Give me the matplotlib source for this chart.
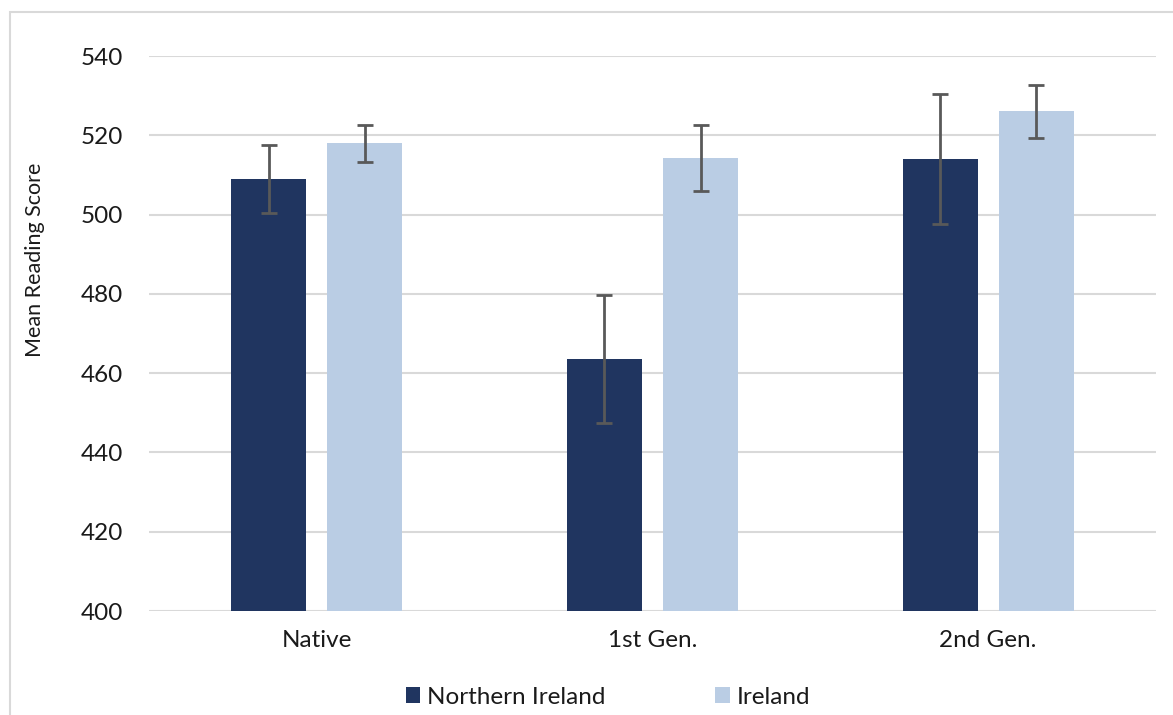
import matplotlib
matplotlib.use("Agg")
import matplotlib.pyplot as plt
import numpy as np
from matplotlib.patches import Rectangle

categories = ["Native", "1st Gen.", "2nd Gen."]
series_names = ["Northern Ireland", "Ireland"]
ni_means = [509.0, 463.6, 514.0]
ni_err = [8.5, 16.2, 16.3]
ie_means = [518.0, 514.2, 526.1]
ie_err = [4.7, 8.3, 6.7]
yticks = [400, 420, 440, 460, 480, 500, 520, 540]

colors = ["#203560", "#BACDE4"]
grid_color = "#D9D9D9"
text_color = "#1a1a1a"
fs = 17.5

plt.rcParams['font.family'] = ['Lato', 'DejaVu Sans']

fig = plt.figure(figsize=(11.73, 7.15), dpi=100)
W, H = 1173, 715
ax = fig.add_axes([149 / W, 1 - 611 / H, (1156 - 149) / W, (611 - 56) / H])

x = np.arange(len(categories))
bw = 0.223
off = 0.143
ax.bar(x - off, ni_means, bw, color=colors[0], zorder=3, label=series_names[0])
ax.bar(x + off, ie_means, bw, color=colors[1], zorder=3, label=series_names[1])
ekw = dict(fmt='none', ecolor='#595959', elinewidth=2, capsize=6, capthick=2, zorder=4)
ax.errorbar(x - off, ni_means, yerr=ni_err, **ekw)
ax.errorbar(x + off, ie_means, yerr=ie_err, **ekw)

ax.set_ylim(400, 540)
ax.set_xlim(-0.5, 2.5)
ax.set_yticks(yticks)
ax.yaxis.grid(True, color=grid_color, linewidth=1.5, zorder=0)
ax.set_axisbelow(True)
for s in ax.spines.values():
    s.set_visible(False)
ax.tick_params(axis='both', length=0, labelsize=fs, colors=text_color)
ax.tick_params(axis='y', pad=19)
ax.tick_params(axis='x', pad=14)
ax.set_xticks(x)
ax.set_xticklabels(categories)
ax.set_ylabel("Mean Reading Score", fontsize=15.5, color=text_color)
ax.yaxis.set_label_coords((45 - 149) / (1156 - 149), (611 - 260) / (611 - 56))

leg = fig.legend(loc='center', bbox_to_anchor=(608 / W, 1 - 697 / H), ncol=2,
                 frameon=False, fontsize=fs, handlelength=0.6, handleheight=0.6,
                 handletextpad=0.3, columnspacing=4.5)
for t in leg.get_texts():
    t.set_color(text_color)

# chart frame
fig.patches.append(Rectangle((9.5 / W, -0.01), 1.02, 1 - 11.5 / H + 0.01,
                             transform=fig.transFigure, fill=False,
                             edgecolor='#D9D9D9', linewidth=1.5))

fig.savefig("out.png", dpi=100)
